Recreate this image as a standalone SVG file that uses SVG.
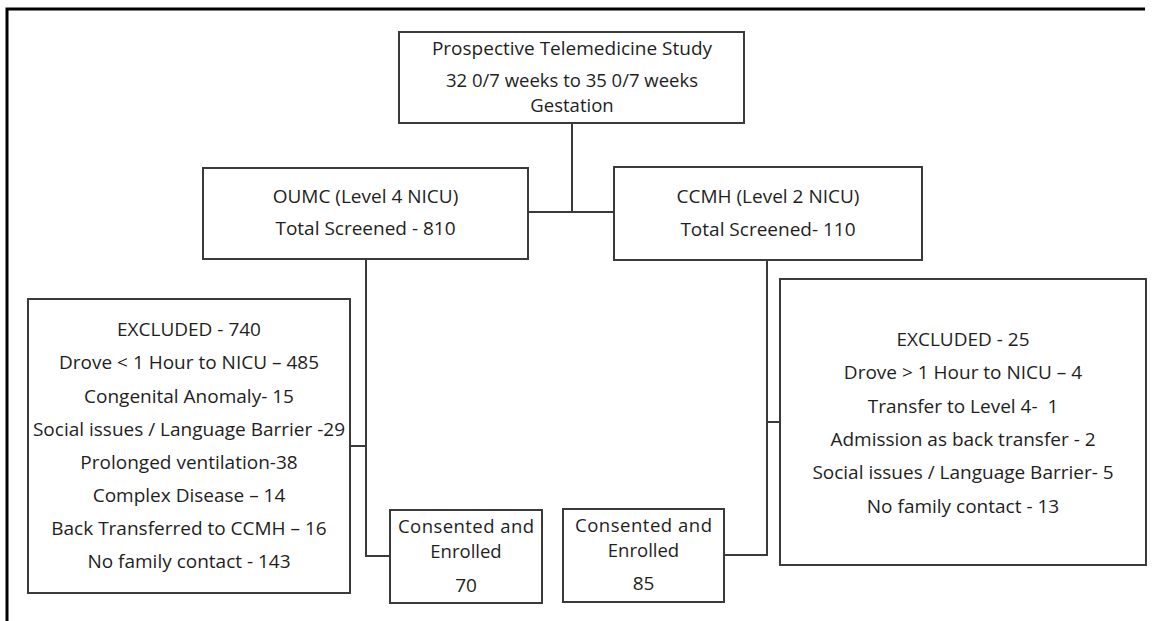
<svg xmlns="http://www.w3.org/2000/svg" width="1154" height="621" viewBox="0 0 1154 621">
<style>
.box{fill:#fff;stroke:#3a3a3a;stroke-width:2}
.ln{fill:none;stroke:#3a3a3a;stroke-width:2}
text{font-family:"Open Sans","Liberation Sans",sans-serif;font-size:19px;fill:#1e1e1e;text-anchor:middle}
.t{font-size:18.5px}
</style>
<rect width="1154" height="621" fill="#fff"/>
<g id="frame">
<path d="M7 621 V9 H1145" fill="none" stroke="#000" stroke-width="3"/>
</g>
<g id="connectors">
<path class="ln" d="M572 123 V212"/>
<path class="ln" d="M528 212 H614"/>
<path class="ln" d="M366 259 V556 H390"/>
<path class="ln" d="M350 446 H366"/>
<path class="ln" d="M767 260 V555 H724"/>
<path class="ln" d="M767 422 H780"/>
</g>
<g id="study">
<rect class="box" x="399" y="32" width="345" height="91"/>
<text x="572" y="55">Prospective Telemedicine Study</text>
<text class="t" x="572" y="87">32 0/7 weeks to 35 0/7 weeks</text>
<text class="t" x="572" y="112">Gestation</text>
</g>
<g id="oumc">
<rect class="box" x="203" y="168" width="325" height="91"/>
<text x="365.5" y="203">OUMC (Level 4 NICU)</text>
<text x="365.5" y="235">Total Screened - 810</text>
</g>
<g id="ccmh">
<rect class="box" x="614" y="167" width="308" height="93"/>
<text x="768" y="203">CCMH (Level 2 NICU)</text>
<text x="768" y="236">Total Screened- 110</text>
</g>
<g id="excluded-oumc">
<rect class="box" x="28" y="299" width="322" height="294"/>
<text x="189" y="336">EXCLUDED - 740</text>
<text x="189" y="369">Drove &lt; 1 Hour to NICU – 485</text>
<text x="189" y="403">Congenital Anomaly- 15</text>
<text x="189" y="436">Social issues / Language Barrier -29</text>
<text x="189" y="469">Prolonged ventilation-38</text>
<text x="189" y="502">Complex Disease – 14</text>
<text x="189" y="535">Back Transferred to CCMH – 16</text>
<text x="189" y="568">No family contact - 143</text>
</g>
<g id="excluded-ccmh">
<rect class="box" x="780" y="279" width="366" height="286"/>
<text x="963" y="346">EXCLUDED - 25</text>
<text x="963" y="379">Drove &gt; 1 Hour to NICU – 4</text>
<text x="963" y="413" xml:space="preserve">Transfer to Level 4-  1</text>
<text x="963" y="446">Admission as back transfer - 2</text>
<text x="963" y="479">Social issues / Language Barrier- 5</text>
<text x="963" y="513">No family contact - 13</text>
</g>
<g id="enrolled-oumc">
<rect class="box" x="390" y="510" width="152" height="93"/>
<text class="t" x="466" y="533" textLength="136" lengthAdjust="spacing">Consented and</text>
<text class="t" x="466" y="558">Enrolled</text>
<text x="466" y="592">70</text>
</g>
<g id="enrolled-ccmh">
<rect class="box" x="563" y="509" width="161" height="93"/>
<text class="t" x="643.5" y="532" textLength="137" lengthAdjust="spacing">Consented and</text>
<text class="t" x="643.5" y="557">Enrolled</text>
<text x="643.5" y="590">85</text>
</g>
</svg>
